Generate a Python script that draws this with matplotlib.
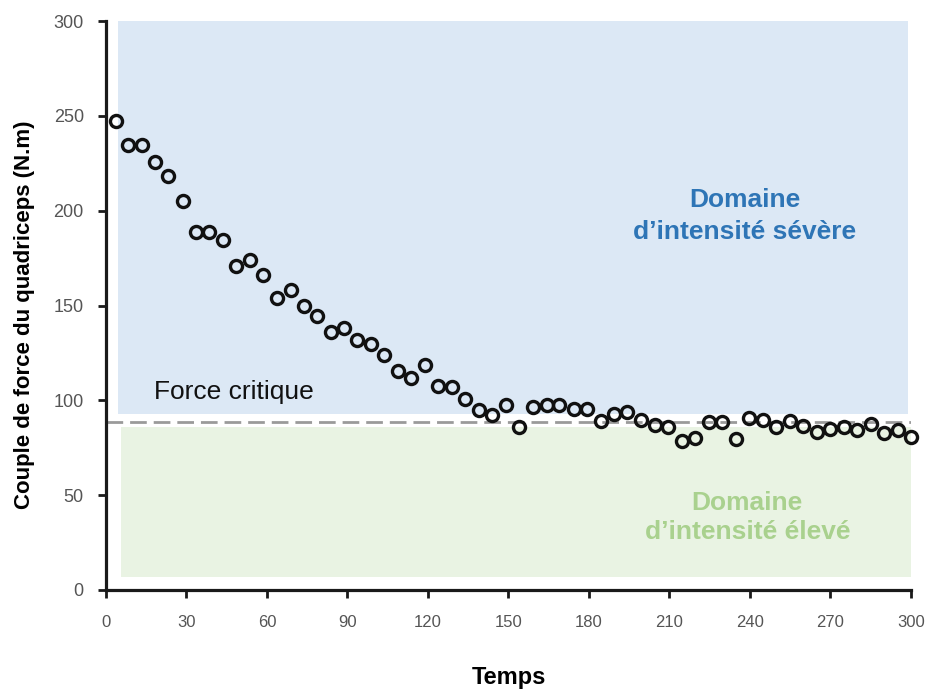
import numpy as np
import matplotlib
matplotlib.use('Agg')
import matplotlib.pyplot as plt
from matplotlib.patches import Rectangle

plt.rcParams['font.family'] = ['Liberation Sans', 'DejaVu Sans']

# temps / couple de force
temps = [3.7, 8.2, 13.4, 18.3, 23.1, 28.7, 33.5, 38.4, 43.6, 48.5,
         53.7, 58.5, 63.7, 69.0, 73.8, 78.6, 83.9, 88.7, 93.5, 98.8,
         103.6, 108.8, 113.7, 118.9, 123.7, 129.0, 133.8, 139.0, 143.9, 149.0,
         154.0, 159.0, 164.4, 169.0, 174.4, 179.3, 184.5, 189.3, 194.0, 199.4,
         204.6, 209.5, 214.7, 219.5, 224.8, 229.6, 234.8, 239.7, 244.9, 249.7,
         254.9, 259.8, 265.0, 269.8, 275.0, 279.9, 285.1, 289.9, 295.2, 300.0]
couple = [247.2, 234.6, 234.6, 225.6, 218.2, 205.0, 189.0, 189.0, 184.5, 170.8,
          174.0, 166.0, 154.0, 158.0, 150.0, 144.4, 136.0, 138.0, 132.0, 129.7,
          124.0, 115.4, 111.8, 118.6, 107.5, 107.0, 100.7, 94.9, 92.2, 97.5,
          86.0, 96.5, 97.5, 97.5, 95.4, 95.4, 89.0, 92.8, 93.8, 89.6,
          87.0, 86.0, 78.5, 80.0, 88.6, 88.6, 79.6, 90.7, 89.6, 86.0,
          89.0, 86.5, 83.3, 84.9, 86.0, 84.3, 87.5, 82.8, 84.3, 80.7]
force_critique = 88.6
xticks = [0, 30, 60, 90, 120, 150, 180, 210, 240, 270, 300]
yticks = [0, 50, 100, 150, 200, 250, 300]

fig = plt.figure(figsize=(9.33, 6.89), dpi=100)
ax = fig.add_axes([0.1136, 0.1437, 0.8628, 0.8258])

# zones de fond
ax.add_patch(Rectangle((4.5, 93), 294.5, 207, facecolor='#dce8f5', edgecolor='none', zorder=0))
ax.add_patch(Rectangle((5.6, 7), 294.8, 79, facecolor='#e9f3e3', edgecolor='none', zorder=0))

ax.axhline(force_critique, color='#9a9a9a', linestyle=(0, (6, 2.5)), linewidth=2, zorder=1)

ax.plot(temps, couple, linestyle='none', marker='o', markersize=8.7,
        markerfacecolor='none', markeredgecolor='#111111', markeredgewidth=2.4, zorder=3, clip_on=False)

ax.text(18, 104.5, 'Force critique', fontsize=19, color='#111111', va='center', ha='left')
ax.text(238, 205.5, 'Domaine', fontsize=19, fontweight='bold', color='#2e75b6', ha='center', va='center')
ax.text(238, 188.8, 'd\u2019intensité sévère', fontsize=19, fontweight='bold', color='#2e75b6', ha='center', va='center')
ax.text(239, 46, 'Domaine', fontsize=19, fontweight='bold', color='#a9d18e', ha='center', va='center')
ax.text(239, 30.5, 'd\u2019intensité élevé', fontsize=19, fontweight='bold', color='#a9d18e', ha='center', va='center')

ax.set_xlim(0, 300)
ax.set_ylim(0, 300)
ax.set_xticks(xticks)
ax.set_yticks(yticks)
for s in ['top', 'right']:
    ax.spines[s].set_visible(False)
for s in ['left', 'bottom']:
    ax.spines[s].set_linewidth(2.3)
    ax.spines[s].set_color('#1a1a1a')
ax.tick_params(axis='both', direction='out', length=6, width=2, color='#1a1a1a',
               labelcolor='#555555')
ax.tick_params(axis='x', pad=12, labelsize=12)
ax.tick_params(axis='y', pad=10, labelsize=13)

ax.set_ylabel('Couple de force du quadriceps (N.m)', fontsize=16, fontweight='bold')
ax.yaxis.set_label_coords(-0.088, 0.483)
ax.set_xlabel('Temps', fontsize=17, fontweight='bold', labelpad=26)

fig.savefig('out.png', dpi=100)
